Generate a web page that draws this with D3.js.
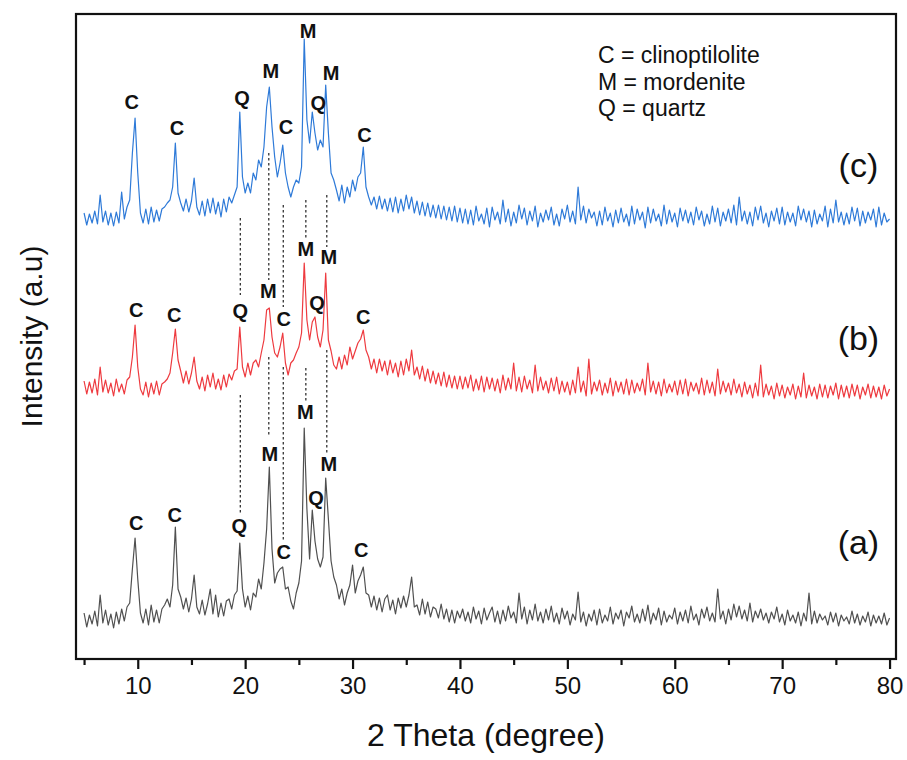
<!DOCTYPE html>
<html>
<head>
<meta charset="utf-8">
<script src="https://cdn.jsdelivr.net/npm/d3@7/dist/d3.min.js"></script>
<style>
  body { margin: 0; background: #fff; }
  svg text { font-family: "Liberation Sans", Arial, sans-serif; fill: #111; }
</style>
</head>
<body>
<svg id="chart" width="907" height="760"></svg>
<script>
// ── Data ──────────────────────────────────────────────────────────────────
// 2θ sampled every 0.25°; each row below = one degree (x.00, x.25, x.50, x.75)
const twoTheta = d3.range(5, 80.001, 0.25);

const intensityA = [
  46, 32, 44, 35,  48, 33, 64, 36,  49, 34, 45, 31,  47, 35, 50, 38,   // 5-8
  52, 56, 90, 121, 80, 46, 36, 50,  34, 54, 37, 49,  36, 50, 54, 60,   // 9-12
  52, 74, 132, 70, 62, 50, 61, 47,  60, 84, 52, 45,  59, 44, 55, 70,   // 13-16
  45, 64, 42, 56,  43, 58, 60, 50,  64, 68, 116, 70, 52, 63, 49, 66,   // 17-20
  62, 80, 70, 96,  130, 192, 110, 76, 86, 90, 92, 70, 72, 58, 50, 66,  // 21-24
  76, 98, 231, 150, 100, 149, 118, 100, 92, 102, 181, 140, 98, 82, 74, 60, // 25-28
  70, 54, 66, 74,  94, 66, 78, 84,  92, 66, 64, 52,  63, 49, 61, 47,   // 29-32
  60, 64, 49, 59,  45, 61, 51, 63,  52, 64, 82, 52,  54, 44, 60, 45,   // 33-36
  57, 42, 52, 50,  41, 55, 40, 50,  37, 49, 36, 48,  41, 50, 38, 47,   // 37-40
  36, 52, 40, 48,  35, 51, 39, 46,  52, 37, 48, 35,  49, 38, 53, 41,   // 41-44
  47, 36, 66, 40,  52, 35, 49, 39,  55, 38, 47, 36,  50, 39, 53, 37,   // 45-48
  46, 35, 51, 40,  48, 34, 45, 39,  67, 37, 47, 33,  45, 38, 49, 34,   // 49-52
  50, 36, 44, 38,  52, 35, 46, 40,  49, 33, 47, 41,  53, 37, 45, 36,   // 53-56
  50, 38, 54, 35,  46, 39, 51, 34,  48, 37, 44, 40,  51, 35, 47, 38,   // 57-60
  49, 36, 53, 39,  45, 34, 50, 41,  52, 38, 46, 37,  70, 40, 48, 35,   // 61-64
  50, 39, 55, 42,  53, 40, 49, 38,  56, 37, 48, 41,  50, 39, 46, 36,   // 65-68
  47, 40, 52, 37,  45, 34, 49, 38,  44, 36, 47, 33,  46, 38, 66, 35,   // 69-72
  48, 36, 45, 39,  43, 34, 47, 37,  46, 33, 44, 38,  42, 35, 48, 36,   // 73-76
  45, 34, 43, 37,  47, 33, 44, 36,  43, 35, 46, 34,                    // 77-79
  41,
];

const intensityB = [
  48, 35, 47, 36,  50, 34, 62, 37,  49, 36, 46, 33,  50, 37, 45, 35,   // 5-8
  49, 52, 72, 104, 62, 40, 34, 47,  32, 46, 35, 48,  34, 45, 47, 50,   // 9-12
  56, 76, 100, 69, 58, 46, 58, 45,  56, 72, 48, 40,  52, 38, 54, 42,   // 13-16
  56, 40, 50, 39,  54, 42, 55, 49,  58, 60, 102, 62, 52, 66, 54, 66,   // 17-20
  69, 62, 76, 89,  119, 121, 92, 76, 72, 82, 96, 66, 54, 66, 69, 76,   // 21-24
  82, 96, 166, 109, 89, 107, 112, 92, 82, 99, 156, 89, 78, 64, 60, 72, // 25-28
  60, 74, 64, 82,  70, 78, 86, 90,  99, 79, 72, 60,  70, 56, 70, 58,   // 29-32
  68, 54, 69, 56,  66, 52, 68, 54,  70, 58, 79, 54,  62, 50, 63, 48,   // 33-36
  60, 46, 58, 45,  56, 43, 57, 42,  54, 41, 53, 40,  53, 40, 52, 41,   // 37-40
  54, 38, 50, 39,  53, 37, 52, 40,  51, 38, 50, 36,  54, 39, 51, 40,   // 41-44
  66, 38, 52, 37,  53, 40, 49, 36,  64, 38, 52, 39,  48, 36, 51, 38,   // 45-48
  52, 35, 48, 37,  47, 34, 49, 36,  62, 37, 48, 33,  70, 35, 47, 38,   // 49-52
  49, 34, 46, 36,  51, 33, 48, 37,  47, 35, 50, 34,  49, 36, 46, 38,   // 53-56
  50, 34, 66, 37,  48, 35, 47, 33,  50, 36, 45, 37,  48, 34, 49, 35,   // 57-60
  50, 33, 47, 38,  46, 35, 51, 34,  49, 36, 47, 33,  60, 35, 48, 37,   // 61-64
  46, 34, 50, 36,  45, 32, 47, 35,  44, 31, 46, 33,  64, 32, 45, 34,   // 65-68
  43, 30, 46, 33,  44, 31, 42, 34,  45, 30, 43, 32,  56, 31, 44, 33,   // 69-72
  42, 30, 45, 32,  44, 31, 43, 34,  46, 30, 44, 32,  43, 31, 45, 33,   // 73-76
  44, 30, 42, 34,  45, 31, 43, 32,  42, 30, 44, 33,                    // 77-79
  40,
];

const intensityC = [
  56, 44, 55, 46,  58, 45, 74, 47,  58, 44, 56, 43,  57, 46, 77, 50,   // 5-8
  62, 69, 116, 151, 96, 56, 46, 60, 45, 62, 47, 59,  48, 60, 62, 66,   // 9-12
  69, 82, 126, 76, 66, 58, 70, 57,  68, 91, 62, 54,  68, 53, 70, 56,   // 13-16
  71, 55, 67, 52,  70, 57, 72, 66,  74, 82, 157, 92, 76, 86, 76, 96,   // 17-20
  89, 109, 102, 122, 162, 182, 142, 112, 92, 106, 124, 96, 82, 72, 82, 89, // 21-24
  86, 102, 230, 149, 126, 157, 136, 119, 129, 122, 184, 136, 96, 89, 79, 68, // 25-28
  84, 66, 82, 72,  89, 78, 92, 96,  122, 82, 72, 64, 72, 60, 73, 60,   // 29-32
  70, 58, 71, 57,  72, 56, 70, 58,  74, 60, 72, 56,  68, 54, 67, 53,   // 33-36
  66, 52, 64, 51,  64, 50, 63, 49,  62, 48, 63, 47,  61, 46, 60, 45,   // 37-40
  59, 44, 63, 48,  55, 45, 61, 42,  62, 49, 57, 45,  69, 47, 60, 43,   // 41-44
  57, 46, 64, 50,  61, 44, 58, 48,  63, 42, 56, 47,  59, 49, 62, 44,   // 45-48
  55, 43, 60, 50,  64, 47, 58, 45,  82, 49, 63, 46,  60, 51, 57, 43,   // 49-52
  58, 44, 62, 48,  56, 42, 59, 46,  61, 47, 55, 43,  63, 45, 60, 49,   // 53-56
  57, 41, 62, 46,  60, 48, 55, 43,  64, 45, 59, 47,  56, 42, 61, 48,   // 57-60
  59, 46, 57, 44,  62, 49, 58, 43,  55, 45, 63, 47,  61, 43, 57, 48,   // 61-64
  60, 46, 64, 44,  72, 48, 58, 45,  57, 43, 62, 49,  63, 46, 56, 42,   // 65-68
  58, 48, 61, 45,  62, 44, 57, 47,  56, 43, 63, 49,  60, 47, 58, 42,   // 69-72
  59, 45, 55, 48,  63, 42, 60, 46,  69, 47, 57, 44,  56, 45, 62, 48,   // 73-76
  61, 43, 58, 46,  57, 49, 60, 42,  62, 44, 56, 47,                    // 77-79
  50,
];

const sampleNames = ["(a)", "(b)", "(c)"];
const sampleOffsets = [0, 230, 390];
const sampleLabelTheta = 77.1;
const sampleLabelHeight = [117, 321, 494];

// peak markers (letters, 2θ and height of the letter above each trace)
const peakPhase = ["C", "C", "Q", "M", "C", "M", "Q", "M", "C"];
const labelThetaA = [9.85, 13.45, 19.45, 22.3, 23.6, 25.6, 26.6, 27.8, 30.8];
const labelHeightA = [136, 144, 133, 205, 107, 247, 161, 195, 109];
const labelThetaB = [9.85, 13.4, 19.55, 22.15, 23.6, 25.65, 26.7, 27.8, 31.0];
const labelHeightB = [119, 114, 118, 138, 110, 180, 126, 172, 112];
const labelThetaC = [9.45, 13.65, 19.7, 22.4, 23.8, 25.85, 26.8, 28.0, 31.1];
const labelHeightC = [167, 141, 171, 198, 142, 238, 166, 196, 134];

// dashed guide lines between the traces (absolute intensity)
const dashTheta = [19.55, 22.2, 23.55, 25.65, 27.6];
const dashUpperTop = [441, 506, 454, 459, 464];
const dashUpperBottom = [364, 379, 352, 419, 412];
const dashLowerTop = [264, 302, 292, 291, 309];
const dashLowerBottom = [144, 222, 119, 256, 206];

const legendLines = ["C = clinoptilolite", "M = mordenite", "Q = quartz"];

const majorTicks = [10, 20, 30, 40, 50, 60, 70, 80];
const minorTicks = [5, 15, 25, 35, 45, 55, 65, 75];

// ── Layout ────────────────────────────────────────────────────────────────
const COLORS = ["#505050", "#ee3a3f", "#2e7ad8"];
const frame = { left: 76, right: 896, top: 14, bottom: 659 };

const svg = d3.select("#chart");

const x = d3.scaleLinear().domain([4.25, 80.6]).range([frame.left, frame.right]);
const y = d3.scaleLinear().domain([0, 645]).range([frame.bottom, frame.top]);

[intensityA, intensityB, intensityC].forEach((arr, i) => {
  if (arr.length !== twoTheta.length)
    console.warn("length mismatch", sampleNames[i], arr.length, twoTheta.length);
});

// ── Dashed guides ─────────────────────────────────────────────────────────
const guides = svg.append("g").attr("class", "guides");
dashTheta.forEach((t, i) => {
  [[dashUpperTop[i], dashUpperBottom[i]], [dashLowerTop[i], dashLowerBottom[i]]].forEach(
    ([top, bottom]) => {
      guides
        .append("line")
        .attr("x1", x(t))
        .attr("x2", x(t))
        .attr("y1", y(top))
        .attr("y2", y(bottom))
        .attr("stroke", "#333")
        .attr("stroke-width", 1.3)
        .attr("stroke-dasharray", "2.5,2.5");
    },
  );
});

// ── Traces ────────────────────────────────────────────────────────────────
const series = [intensityA, intensityB, intensityC];
series.forEach((vals, i) => {
  const line = d3
    .line()
    .x((d, k) => x(twoTheta[k]))
    .y((d) => y(d + sampleOffsets[i]));
  svg
    .append("path")
    .datum(vals.slice(0, twoTheta.length))
    .attr("fill", "none")
    .attr("stroke", COLORS[i])
    .attr("stroke-width", 1.2)
    .attr("stroke-linejoin", "round")
    .attr("d", line);
});

// ── Peak letters ──────────────────────────────────────────────────────────
const labelSets = [
  [labelThetaA, labelHeightA],
  [labelThetaB, labelHeightB],
  [labelThetaC, labelHeightC],
];
labelSets.forEach(([thetas, heights], i) => {
  svg
    .append("g")
    .selectAll("text")
    .data(peakPhase)
    .join("text")
    .attr("x", (d, k) => x(thetas[k]))
    .attr("y", (d, k) => y(heights[k] + sampleOffsets[i]))
    .attr("text-anchor", "middle")
    .attr("dominant-baseline", "central")
    .attr("font-size", 20)
    .attr("font-weight", "bold")
    .text((d) => d);
});

// ── Sample names ──────────────────────────────────────────────────────────
svg
  .append("g")
  .selectAll("text")
  .data(sampleNames)
  .join("text")
  .attr("x", x(sampleLabelTheta))
  .attr("y", (d, i) => y(sampleLabelHeight[i]))
  .attr("text-anchor", "middle")
  .attr("dominant-baseline", "central")
  .attr("font-size", 34)
  .text((d) => d);

// ── Legend text ───────────────────────────────────────────────────────────
svg
  .append("g")
  .selectAll("text")
  .data(legendLines)
  .join("text")
  .attr("x", 598)
  .attr("y", (d, i) => 63 + i * 26.5)
  .attr("font-size", 23)
  .text((d) => d);

// ── Frame and axis ────────────────────────────────────────────────────────
svg
  .append("rect")
  .attr("x", frame.left)
  .attr("y", frame.top)
  .attr("width", frame.right - frame.left)
  .attr("height", frame.bottom - frame.top)
  .attr("fill", "none")
  .attr("stroke", "#111")
  .attr("stroke-width", 2.2);

const xAxis = svg
  .append("g")
  .attr("transform", `translate(0,${frame.bottom})`)
  .call(d3.axisBottom(x).tickValues(majorTicks).tickSize(10).tickPadding(8).tickFormat(d3.format("d")));
xAxis.select(".domain").remove();
xAxis.selectAll(".tick line").attr("stroke", "#111").attr("stroke-width", 2.2);
xAxis.selectAll(".tick text").attr("font-size", 24).attr("fill", "#111")
  .attr("font-family", '"Liberation Sans", Arial, sans-serif');

const xMinor = svg
  .append("g")
  .attr("transform", `translate(0,${frame.bottom})`)
  .call(d3.axisBottom(x).tickValues(minorTicks).tickSize(6).tickFormat(""));
xMinor.select(".domain").remove();
xMinor.selectAll(".tick line").attr("stroke", "#111").attr("stroke-width", 2.2);

// ── Axis titles ───────────────────────────────────────────────────────────
svg
  .append("text")
  .attr("x", (frame.left + frame.right) / 2)
  .attr("y", 746)
  .attr("text-anchor", "middle")
  .attr("font-size", 32)
  .text("2 Theta (degree)");

svg
  .append("text")
  .attr("transform", `translate(42,${(frame.top + frame.bottom) / 2}) rotate(-90)`)
  .attr("text-anchor", "middle")
  .attr("font-size", 30)
  .text("Intensity (a.u)");
</script>
</body>
</html>
